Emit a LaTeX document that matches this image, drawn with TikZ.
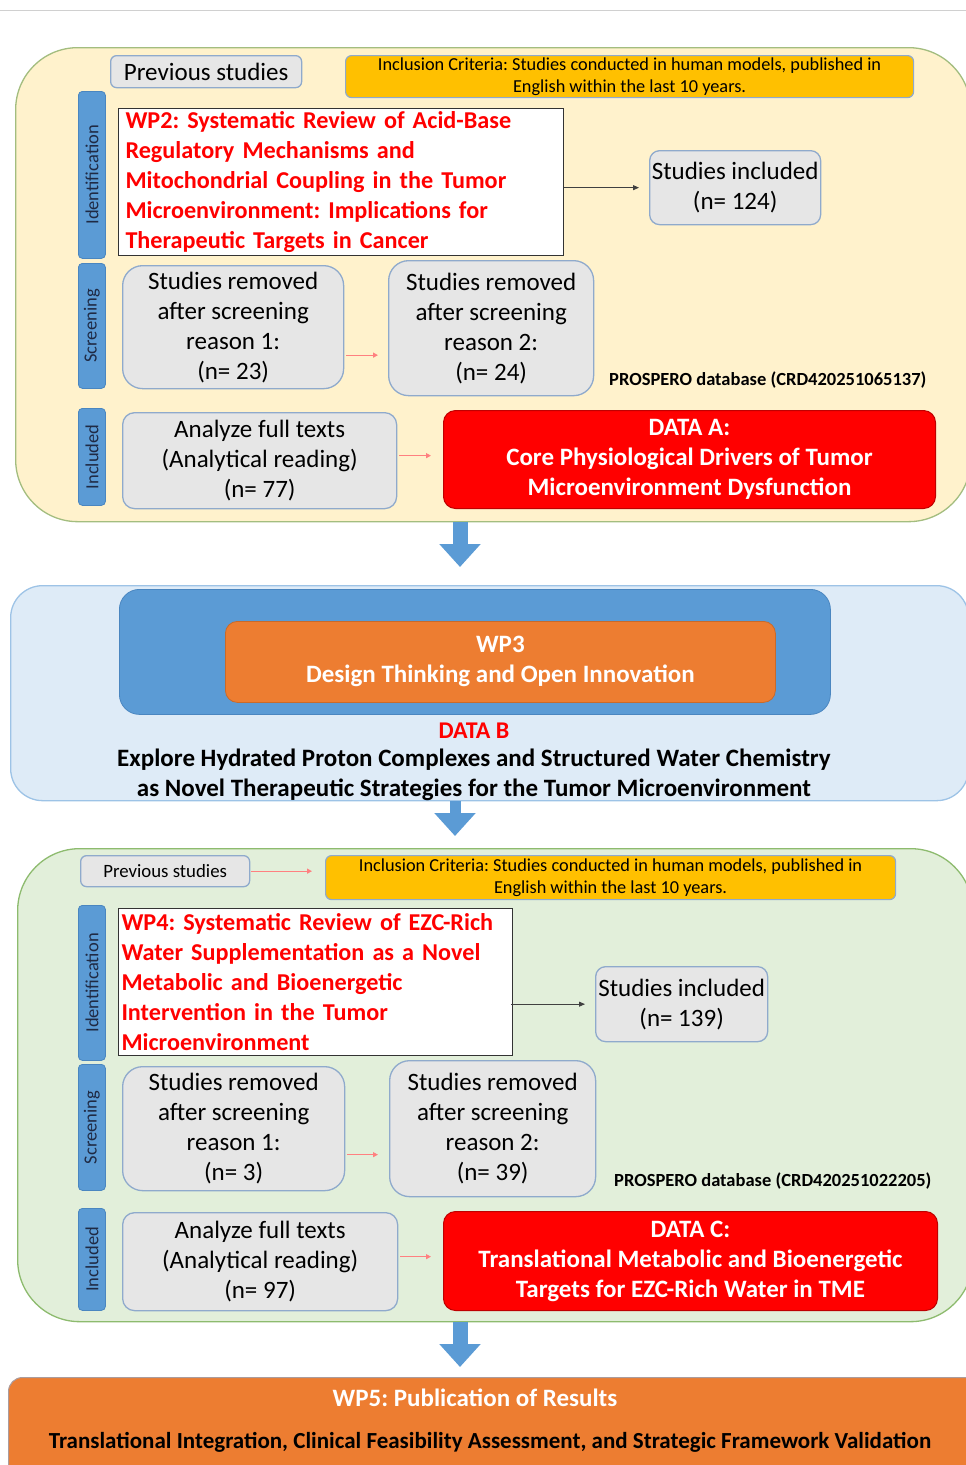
\documentclass[tikz,border=0pt]{standalone}
\usepackage{fontspec}
\setmainfont{Carlito}
\usetikzlibrary{arrows.meta,calc}

\definecolor{paneyellow}{HTML}{FFF2CC}
\definecolor{paneyellowedge}{HTML}{A3BD7F}
\definecolor{paneblue}{HTML}{DEEBF7}
\definecolor{paneblueedge}{HTML}{9DC3E6}
\definecolor{panegreen}{HTML}{E2EFDA}
\definecolor{panegreenedge}{HTML}{8DBB6E}
\definecolor{boxgray}{HTML}{E6E6E6}
\definecolor{boxedge}{HTML}{8FAACC}
\definecolor{critgold}{HTML}{FFC000}
\definecolor{barblue}{HTML}{5B9BD5}
\definecolor{barbluedge}{HTML}{4A86C0}
\definecolor{wporange}{HTML}{ED7D31}
\definecolor{datared}{HTML}{FF0000}
\definecolor{navytext}{HTML}{1F2A44}
\definecolor{linkred}{HTML}{FF8080}
\definecolor{linkgray}{HTML}{404040}
\definecolor{topline}{HTML}{D0D0D0}

\newcommand{\fsz}[2]{\fontsize{#1}{#2}\selectfont}

\begin{document}
\frenchspacing
\begin{tikzpicture}[x=1pt,y=-1pt,
  box/.style={anchor=north west,inner sep=0pt,align=center},
  panel/.style={box,line width=1.3pt},
  graybox/.style={box,draw=boxedge,fill=boxgray,line width=1.3pt,rounded corners=10pt,text=black},
  roundgray/.style={graybox,rounded corners=20pt},
  critbox/.style={box,draw=boxedge,fill=critgold,line width=1.2pt,rounded corners=6pt,text=black,font=\fsz{18.3}{22}},
  titlebox/.style={box,draw=black!80,fill=white,line width=1pt,align=left,inner xsep=7pt,text=datared,font=\bfseries\fsz{24.2}{30}},
  databox/.style={box,draw=red!75!black,fill=datared,line width=1pt,rounded corners=12pt,text=white,font=\bfseries\fsz{25}{30}},
  sidebar/.style={box,fill=barblue,draw=barbluedge,line width=0.8pt,rounded corners=4pt,minimum width=27pt},
  sidelabel/.style={rotate=90,text=navytext,font=\fsz{18.5}{20}},
  dbnote/.style={anchor=west,inner sep=0pt,font=\bfseries\fsz{18.5}{22}},
  thinlink/.style={draw=linkgray,line width=0.8pt,-{Triangle[length=6pt,width=5pt]}},
  redlink/.style={draw=linkred,line width=1.2pt,-{Triangle[length=5pt,width=5pt]},color=linkred},
  bigarrow/.style={barblue,line width=15pt,-{Triangle[length=23pt,width=40pt]}}
]
\useasboundingbox (0,0) rectangle (966,1465);

% thin rule across the top
\draw[topline,line width=0.8pt] (0,10) -- (966,10);

% ---------------- WP2 panel ----------------
\node[panel,draw=paneyellowedge,fill=paneyellow,rounded corners=62pt,
      minimum width=955pt,minimum height=474pt] (p1) at (15,47) {};

\node[graybox,minimum width=191pt,minimum height=32pt,rounded corners=6pt,font=\fsz{25}{26}]
  (prev1) at (110,55) {Previous studies};
\node[critbox,minimum width=568pt,minimum height=42pt] (crit1) at (345,55)
  {Inclusion Criteria: Studies conducted in human models, published in\\English within the last 10 years.};

\node[sidebar,minimum height=167pt] (id1) at (78,91) {};
\node[sidelabel] at (id1.center) {Identification};
\node[sidebar,minimum height=125pt] (sc1) at (78,263) {};
\node[sidelabel] at (sc1.center) {Screening};
\node[sidebar,minimum height=97pt] (in1) at (78,408) {};
\node[sidelabel] at (in1.center) {Included};

\node[titlebox,minimum width=445pt,minimum height=147pt,text width=431pt] (wp2) at (118,108)
  {WP2: Systematic Review of Acid-Base\\Regulatory Mechanisms and\\Mitochondrial Coupling in the Tumor\\Microenvironment: Implications for\\Therapeutic Targets in Cancer};

\node[graybox,minimum width=171pt,minimum height=74pt,font=\fsz{25}{30}] (inc1) at (649,150)
  {Studies included\\(n= 124)};

\node[roundgray,minimum width=221pt,minimum height=123pt,font=\fsz{25}{30}] (r11) at (122,265)
  {Studies removed\\after screening\\reason 1:\\(n= 23)};
\node[roundgray,minimum width=205pt,minimum height=135pt,font=\fsz{25}{30}] (r12) at (388,260)
  {Studies removed\\after screening\\reason 2:\\(n= 24)};
\node[dbnote] (db1) at (609,380) {PROSPERO database (CRD420251065137)};

\node[graybox,minimum width=274pt,minimum height=96pt,rounded corners=12pt,font=\fsz{25}{30}] (an1) at (122,412)
  {Analyze full texts\\(Analytical reading)\\(n= 77)};
\node[databox,minimum width=492pt,minimum height=98pt] (da) at (443,410)
  {DATA A:\\Core Physiological Drivers of Tumor\\Microenvironment Dysfunction};

\draw[thinlink,shorten >=10pt] (wp2.east |- inc1.west) -- (inc1.west);
\draw[redlink,shorten >=10pt,shorten <=2pt] ([yshift=-28pt]r11.east) -- ([yshift=-28pt]r11.east -| r12.west);
\draw[redlink,shorten >=12pt,shorten <=2pt] ([yshift=5pt]an1.east) -- ([yshift=5pt]an1.east -| da.west);

% ---------------- WP3 panel ----------------
\node[panel,draw=paneblueedge,fill=paneblue,rounded corners=32pt,
      minimum width=958pt,minimum height=215pt] (p2) at (10,585) {};
\node[box,fill=barblue,draw=barbluedge,line width=0.8pt,rounded corners=20pt,
      minimum width=711pt,minimum height=125pt] (wp3out) at (119,589) {};
\node[box,fill=wporange,draw=wporange!85!black,line width=0.8pt,rounded corners=12pt,
      minimum width=550pt,minimum height=81pt,text=white,font=\bfseries\fsz{25}{30}] (wp3) at (225,621)
  {WP3\\Design Thinking and Open Innovation};
\node[inner sep=0pt,text=datared,font=\bfseries\fsz{24}{26}] (datab) at (474,731) {DATA B};
\node[inner sep=0pt,align=center,font=\bfseries\fsz{25}{30}] (datablines) at (474,775)
  {Explore Hydrated Proton Complexes and Structured Water Chemistry\\as Novel Therapeutic Strategies for the Tumor Microenvironment};

% ---------------- WP4 panel ----------------
\node[panel,draw=panegreenedge,fill=panegreen,rounded corners=62pt,
      minimum width=955pt,minimum height=473pt] (p3) at (17,848) {};

\node[graybox,minimum width=169pt,minimum height=31pt,rounded corners=6pt,font=\fsz{18.8}{20}]
  (prev2) at (80,855) {Previous studies};
\node[critbox,minimum width=570pt,minimum height=44pt] (crit2) at (325,855)
  {Inclusion Criteria: Studies conducted in human models, published in\\English within the last 10 years.};

\node[sidebar,minimum height=155pt] (id2) at (78,905) {};
\node[sidelabel] at (id2.center) {Identification};
\node[sidebar,minimum height=126pt] (sc2) at (78,1064) {};
\node[sidelabel] at (sc2.center) {Screening};
\node[sidebar,minimum height=102pt] (in2) at (78,1208) {};
\node[sidelabel] at (in2.center) {Included};

\node[titlebox,minimum width=394pt,minimum height=147pt,text width=388pt,inner xsep=3pt] (wp4) at (118,908)
  {WP4: Systematic Review of EZC-Rich\\Water Supplementation as a Novel\\Metabolic and Bioenergetic\\Intervention in the Tumor\\Microenvironment};

\node[graybox,minimum width=172pt,minimum height=75pt,font=\fsz{25}{30}] (inc2) at (595,966)
  {Studies included\\(n= 139)};

\node[roundgray,minimum width=222pt,minimum height=124pt,font=\fsz{25}{30}] (r21) at (122,1066)
  {Studies removed\\after screening\\reason 1:\\(n= 3)};
\node[roundgray,minimum width=206pt,minimum height=136pt,font=\fsz{25}{30}] (r22) at (389,1060)
  {Studies removed\\after screening\\reason 2:\\(n= 39)};
\node[dbnote] (db2) at (614,1181) {PROSPERO database (CRD420251022205)};

\node[graybox,minimum width=275pt,minimum height=98pt,rounded corners=12pt,font=\fsz{25}{30}] (an2) at (122,1212)
  {Analyze full texts\\(Analytical reading)\\(n= 97)};
\node[databox,minimum width=494pt,minimum height=99pt] (dc) at (443,1211)
  {DATA C:\\Translational Metabolic and Bioenergetic\\Targets for EZC-Rich Water in TME};

\draw[redlink,shorten >=13pt,shorten <=1pt] (prev2.east) -- (prev2.east -| crit2.west);
\draw[thinlink,shorten >=10pt,shorten <=-2pt] (wp4.east |- inc2.west) -- (inc2.west);
\draw[redlink,shorten >=11pt,shorten <=2pt] ([yshift=-26pt]r21.east) -- ([yshift=-26pt]r21.east -| r22.west);
\draw[redlink,shorten >=12pt,shorten <=2pt] ([yshift=5pt]an2.east) -- ([yshift=5pt]an2.east -| dc.west);

% ---------------- WP5 panel ----------------
\node[box,fill=wporange,draw=boxedge!70!wporange,line width=1pt,rounded corners=14pt,
      minimum width=990pt,minimum height=110pt] (wp5) at (8,1377) {};
\node[inner sep=0pt,text=white,font=\bfseries\fsz{25}{26}] (wp5title) at (475,1398) {WP5: Publication of Results};
\node[inner sep=0pt,font=\bfseries\fsz{23}{24}] (wp5text) at (490,1442)
  {Translational Integration, Clinical Feasibility Assessment, and Strategic Framework Validation};

% ---------------- flow between panels ----------------
\coordinate (ax1) at (460,0);
\coordinate (ax2) at (455,0);
\draw[bigarrow,shorten >=18pt] (ax1 |- p1.south) -- (ax1 |- p2.north);
\draw[bigarrow,line width=11pt,shorten >=12pt] (ax2 |- p2.south) -- (ax2 |- p3.north);
\draw[bigarrow,shorten >=10pt] (ax1 |- p3.south) -- (ax1 |- wp5.north);
\end{tikzpicture}
\end{document}
